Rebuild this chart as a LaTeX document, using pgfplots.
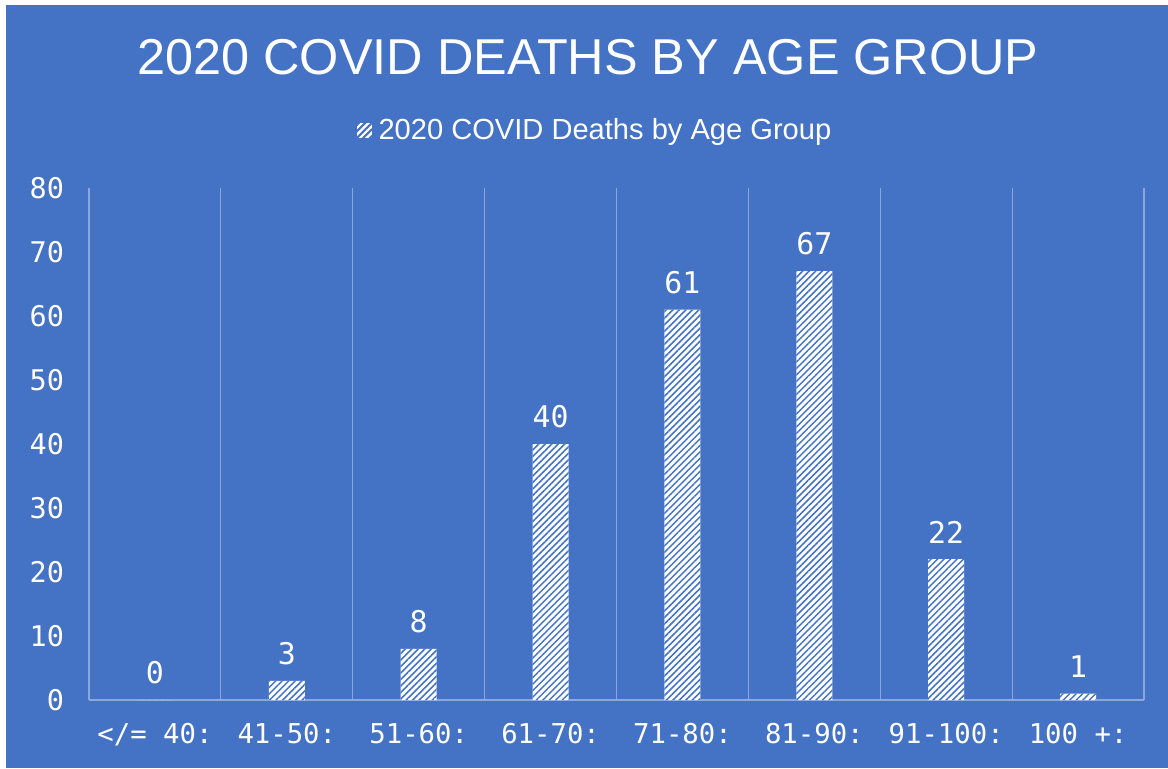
\documentclass[border=0pt]{standalone}
\usepackage{fontspec}
\setmainfont{Liberation Sans}
\newfontfamily\monofont{DejaVu Sans Mono}
\usepackage{pgfplots}
\pgfplotsset{compat=1.18}
\usetikzlibrary{patterns.meta}
\definecolor{bgblue}{RGB}{68,114,196}
\definecolor{gridblue}{RGB}{140,168,218}

\tikzset{hatch/.style={fill=white,
  postaction={pattern={Lines[angle=45,distance=2.3bp,line width=0.75bp]}, pattern color=bgblue}}}

\begin{document}
\begin{tikzpicture}[x=1bp,y=1bp]
% page and background
\fill[white] (0,0) rectangle (584,384);
\fill[bgblue] (3,0) rectangle (584,381.5);
\node[text=white, font=\fontsize{25.3}{30}\selectfont] at (294,355.5) {2020 COVID DEATHS BY AGE GROUP};

\begin{axis}[
  at={(44.5bp,34bp)}, anchor=south west,
  scale only axis, width=527.5bp, height=256bp,
  xmin=-0.5, xmax=7.5, ymin=0, ymax=80,
  ybar, bar width=18bp,
  axis line style={draw=none},
  major tick length=0, minor tick length=0,
  xtick={0,...,7},
  xticklabels={{</= 40:},{41-50:},{51-60:},{61-70:},{71-80:},{81-90:},{91-100:},{100 +:}},
  minor xtick={-0.5,0.5,...,7.5},
  xminorgrids, minor grid style={gridblue, line width=0.6bp},
  ytick={0,10,...,80},
  /pgf/number format/assume math mode=true,
  xticklabel style={font=\monofont\fontsize{13.7}{16}\selectfont, text=white, anchor=north, yshift=-8bp},
  yticklabel style={font=\monofont\fontsize{14.3}{16}\selectfont, text=white, anchor=east, xshift=-9bp},
  nodes near coords,
  every node near coord/.append style={font=\monofont\fontsize{15}{18}\selectfont, text=white, yshift=4.5bp},
  legend style={at={(0.4806,1.113)}, anchor=center, draw=none, fill=none, text=white,
    font=\fontsize{14.6}{17}\selectfont},
  legend image code/.code={
    \fill[white] (0bp,-3.7bp) rectangle (7.4bp,3.7bp);
    \fill[pattern={Lines[angle=45,distance=2.3bp,line width=0.75bp]}, pattern color=bgblue] (0bp,-3.7bp) rectangle (7.4bp,3.7bp);
  },
]
\draw[gridblue, line width=0.6bp] (rel axis cs:0,0) -- (rel axis cs:1,0);
\addplot[draw=none, hatch] coordinates {
  (0,0) (1,3) (2,8) (3,40) (4,61) (5,67) (6,22) (7,1)
};
\addlegendentry{\hspace{1.5bp}2020 COVID Deaths by Age Group}
\end{axis}
\end{tikzpicture}
\end{document}
